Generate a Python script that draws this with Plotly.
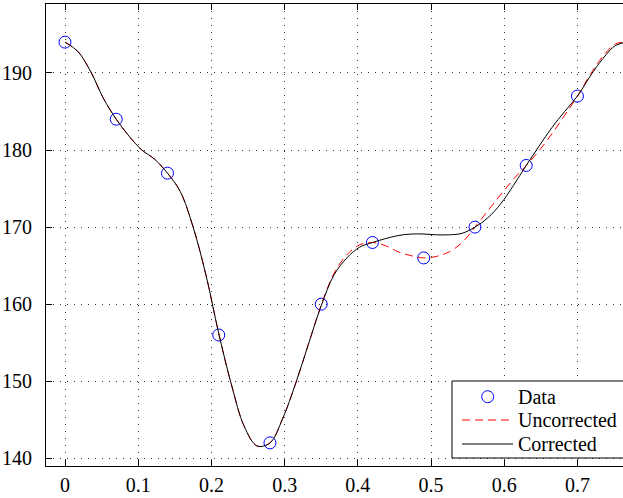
import plotly.graph_objects as go

# Data samples
data_x = [0.00, 0.07, 0.14, 0.21, 0.28, 0.35, 0.42, 0.49, 0.56, 0.63, 0.70]
data_y = [194, 184, 177, 156, 142, 160, 168, 166, 170, 178, 187]

# Curves
curve_x = [0.0, 0.0175, 0.035, 0.0525, 0.07, 0.0875, 0.105, 0.1225, 0.14, 0.1575,
           0.175, 0.1925, 0.21, 0.2275, 0.245, 0.2625, 0.28, 0.2975, 0.315, 0.3325,
           0.35, 0.3675, 0.385, 0.4025, 0.42, 0.4375, 0.455, 0.4725, 0.49, 0.5075,
           0.525, 0.5425, 0.56, 0.5775, 0.595, 0.6125, 0.63, 0.6475, 0.665, 0.6825,
           0.70, 0.7175, 0.735, 0.7525, 0.77]

uncorrected_y = [194.0, 192.8, 190.2, 186.7, 184.0, 181.8, 180.0, 178.8, 177.0, 174.6,
                 170.0, 163.8, 156.2, 149.5, 144.1, 141.6, 142.0, 145.2, 149.7, 154.8,
                 159.9, 164.0, 166.4, 167.7, 168.0, 167.6, 166.8, 166.3, 166.0, 166.2,
                 166.8, 168.0, 170.0, 172.1, 174.2, 176.2, 178.0, 179.9, 182.1, 184.5,
                 187.0, 189.8, 192.2, 193.8, 194.0]

corrected_y = [194.0, 192.8, 190.2, 186.7, 184.0, 181.8, 180.0, 178.8, 177.0, 174.6,
               170.0, 163.8, 156.2, 149.5, 144.1, 141.6, 142.0, 145.2, 149.7, 154.8,
               159.8, 163.8, 166.0, 167.4, 168.0, 168.5, 168.9, 169.1, 169.1, 169.0,
               169.0, 169.2, 170.0, 171.2, 173.0, 175.4, 178.0, 180.5, 182.9, 185.0,
               187.0, 189.6, 191.9, 193.6, 194.0]

x_ticks = [0, 0.1, 0.2, 0.3, 0.4, 0.5, 0.6, 0.7]
y_ticks = [140, 150, 160, 170, 180, 190]
legend_names = ["Data", "Uncorrected", "Corrected"]

font = dict(family="Liberation Serif, Times New Roman, serif", size=20, color="black")

fig = go.Figure()
fig.add_trace(go.Scatter(
    x=data_x, y=data_y, mode="markers", name=legend_names[0],
    marker=dict(symbol="circle-open", size=12, color="#0000ff", line=dict(width=1, color="#0000ff")),
    cliponaxis=False))
fig.add_trace(go.Scatter(
    x=curve_x, y=uncorrected_y, mode="lines", name=legend_names[1],
    line=dict(color="#ff0000", width=1, dash="8px,5px", shape="spline")))
fig.add_trace(go.Scatter(
    x=curve_x, y=corrected_y, mode="lines", name=legend_names[2],
    line=dict(color="black", width=1, shape="spline")))

axis_common = dict(
    showline=True, linecolor="black", linewidth=1,
    ticks="inside", ticklen=6, tickcolor="black", tickwidth=1,
    showgrid=True, gridcolor="#333333", gridwidth=1, griddash="1px,6px",
    zeroline=False, tickfont=font,
)

# Hand-drawn legend box (paper coordinates)
L, R, T, B = 0.7036, 1.05, 0.184, 0.0173
row_y = [0.150, 0.0996, 0.0476]
shapes = [
    dict(type="rect", xref="paper", yref="paper", x0=L, x1=R, y0=B, y1=T,
         fillcolor="white", line=dict(color="black", width=1), layer="above"),
    dict(type="circle", xref="paper", yref="paper", xsizemode="pixel", ysizemode="pixel",
         xanchor=0.7655, yanchor=row_y[0], x0=-6, x1=6, y0=-6, y1=6,
         line=dict(color="#0000ff", width=1), layer="above"),
    dict(type="line", xref="paper", yref="paper", x0=0.721, x1=0.8094, y0=row_y[1], y1=row_y[1],
         line=dict(color="#ff0000", width=1, dash="8px,5px"), layer="above"),
    dict(type="line", xref="paper", yref="paper", x0=0.721, x1=0.8094, y0=row_y[2], y1=row_y[2],
         line=dict(color="black", width=1), layer="above"),
]
annotations = [
    dict(text=name, xref="paper", yref="paper", x=0.8145, y=yy, xanchor="left",
         yanchor="middle", showarrow=False, font=font)
    for name, yy in zip(legend_names, row_y)
]

fig.update_layout(
    width=623, height=498,
    margin=dict(l=46, r=0, t=4, b=32),
    paper_bgcolor="white", plot_bgcolor="white",
    font=font,
    showlegend=False,
    shapes=shapes,
    annotations=annotations,
)
fig.update_xaxes(range=[-0.02595, 0.7622], tickvals=x_ticks,
                 ticktext=[("%g" % v) for v in x_ticks], mirror="ticks",
                 ticklabelstandoff=1, **axis_common)
fig.update_yaxes(range=[139.0, 198.95], tickvals=y_ticks, mirror=False,
                 ticklabelstandoff=9, **axis_common)

fig.write_html("out.html")
